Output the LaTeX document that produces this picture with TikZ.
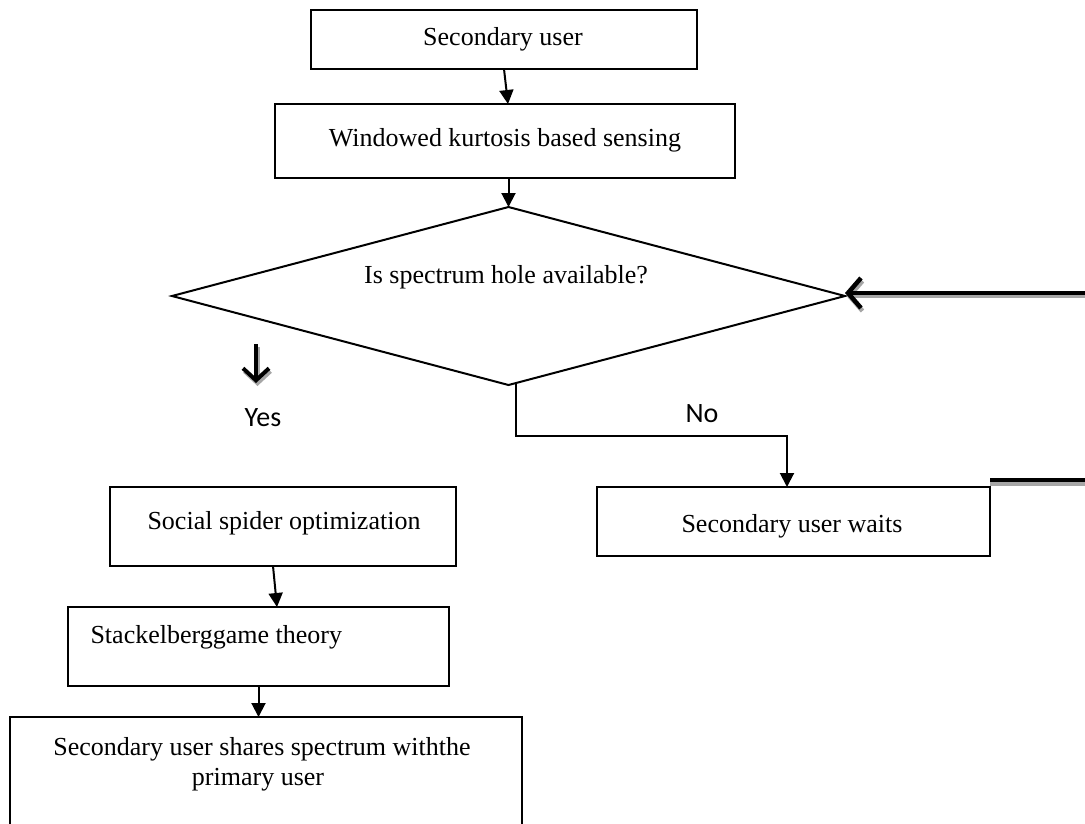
\documentclass[tikz,border=0pt]{standalone}
\usepackage{fontspec}
\setmainfont{Liberation Serif}
\newfontfamily\calib{Carlito}
\usetikzlibrary{shapes.geometric,arrows.meta}

\tikzset{
	box/.style={rectangle, draw, line width=2pt, inner sep=0pt, outer sep=0pt},
	arr/.style={line width=2pt, -{Triangle[length=14pt,width=14pt]}},
	fatarr/.style={line width=4.5pt, -{Straight Barb[length=13pt,width=30pt]}},
	txt/.style={anchor=base, font=\fontsize{26}{31}\selectfont},
	lbl/.style={anchor=base, font=\calib\fontsize{28}{33}\selectfont},
}

\begin{document}
\begin{tikzpicture}[x=1pt, y=-1pt]
				\clip (0, 0) rectangle (1085, 823);
				\fill[white] (0, 0) rectangle (1085, 823);

				% 箱を置く
				\node[box, minimum width=386pt, minimum height=59pt] (su) at (504, 39.5) {};
				\node[box, minimum width=460pt, minimum height=74pt] (wks) at (505, 141) {};
				\node[box, diamond, aspect=3.78, minimum width=673pt, minimum height=178pt] (hole) at (508.5, 296) {};
				\node[box, minimum width=393pt, minimum height=69pt] (wait) at (793.5, 521.5) {};
				\node[box, minimum width=346pt, minimum height=79pt] (sso) at (283, 526.5) {};
				\node[box, minimum width=381pt, minimum height=79pt] (game) at (258.5, 646.5) {};
				\node[box, minimum width=512pt, minimum height=130pt] (share) at (266, 782) {};

				\coordinate (feed) at (1085, 293);
				\coordinate (back) at (1085, 480);
				\coordinate (yes) at (256, 344);
				\coordinate (no) at (516, 383);
				\coordinate (nobend) at (787, 436);

				% 線を引く
				\draw[arr] (su.south) -- ([xshift=4pt]su.south |- wks.north);
				\draw[arr] (wks.south -| hole.north) -- (hole.north);
				\draw[arr] (no) -- (no |- nobend) -- (nobend) -- (nobend |- wait.north);
				\draw[arr] ([xshift=-10pt]sso.south) -- ([xshift=-6pt]sso.south |- game.north);
				\draw[arr] (game.south) -- (game.south |- share.north);

				\draw[fatarr, gray!70, transform canvas={shift={(1.5pt,-3pt)}}] (feed) -- (feed -| hole.east);
				\draw[fatarr] (feed) -- (feed -| hole.east);
				\draw[line width=4pt, gray!70, transform canvas={shift={(0pt,-4pt)}}] (wait.north east |- back) -- (back);
				\draw[line width=4pt] (wait.north east |- back) -- (back);
				\draw[line width=4pt, gray!70, -{Straight Barb[length=12pt,width=26pt]}, transform canvas={shift={(1.5pt,-3pt)}}] (yes) -- ++(0, 39);
				\draw[line width=4pt, -{Straight Barb[length=12pt,width=26pt]}] (yes) -- ++(0, 39);

				% 文字を入れる
				\node[txt] at (503, 45) {Secondary user};
				\node[txt] at (505, 146) {Windowed kurtosis based sensing};
				\node[txt] at (506, 283) {Is spectrum hole available?};
				\node[lbl] at (263, 426) {Yes};
				\node[lbl] at (702, 422) {No};
				\node[txt] at (792, 532) {Secondary user waits};
				\node[txt] at (284, 529) {Social spider optimization};
				\node[txt, anchor=base west] at (87, 643) {Stackelberggame theory};
				\node[txt] at (262, 755) {Secondary user shares spectrum withthe};
				\node[txt] at (258, 785) {primary user};

			\end{tikzpicture}
\end{document}
